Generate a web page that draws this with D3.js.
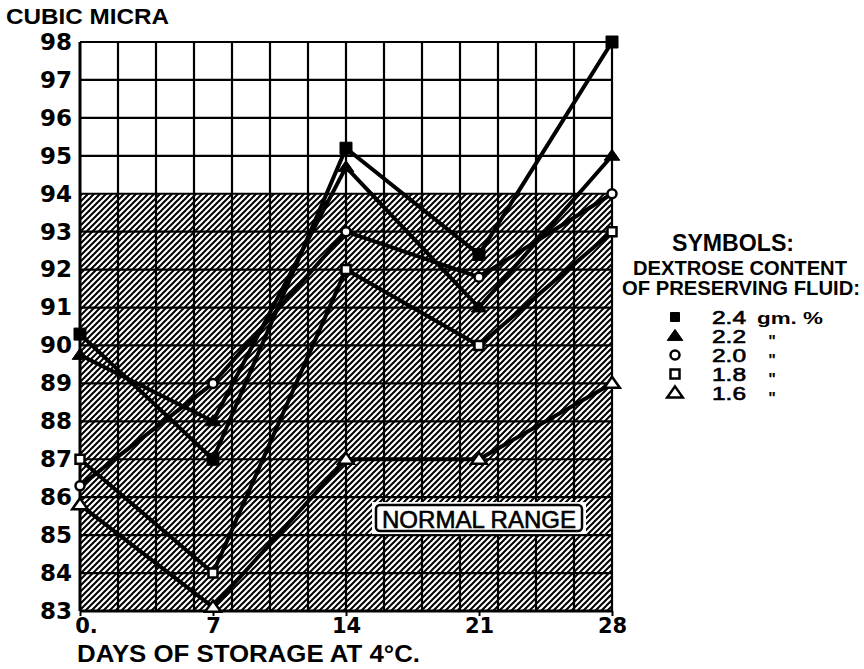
<!DOCTYPE html>
<html>
<head>
<meta charset="utf-8">
<script src="https://cdn.jsdelivr.net/npm/d3@7"></script>
<style>
  body { margin: 0; background: #fff; }
  svg { display: block; }
</style>
</head>
<body>
<div id="chart"></div>
<script>
// days of storage and mean corpuscular volume per dextrose level
const days = [0, 7, 14, 21, 28];
const dex24 = [90.3, 87, 95.2, 92.4, 98];
const dex22 = [89.75, 88, 94.7, 91, 95];
const dex20 = [86.3, 89, 93, 91.8, 94];
const dex18 = [87, 84, 92, 90, 93];
const dex16 = [85.8, 83.1, 87, 87, 89];

const seriesNames = ['2.4', '2.2', '2.0', '1.8', '1.6'];
const seriesUnits = ['gm. %', '"', '"', '"', '"'];
const seriesSymbols = ['fsquare', 'ftriangle', 'ocircle', 'osquare', 'otriangle'];
const seriesValues = [dex24, dex22, dex20, dex18, dex16];

const yTicks = d3.range(83, 99);
const xTicks = [0, 7, 14, 21, 28];
const xGrid = d3.range(0, 29, 2);
const normalRange = [83, 94];

const svgWidth = 864, svgHeight = 669;

const svg = d3.select('#chart').append('svg')
  .attr('width', svgWidth)
  .attr('height', svgHeight);

const x = d3.scaleLinear().domain([0, 28]).range([80, 612]);
const y = d3.scaleLinear().domain([83, 98]).range([611, 42]);

// hatch for the normal range
const defs = svg.append('defs');
defs.append('pattern')
  .attr('id', 'hatch')
  .attr('patternUnits', 'userSpaceOnUse')
  .attr('width', 6)
  .attr('height', 6)
  .append('path')
  .attr('d', 'M-1,1 l2,-2 M0,6 l6,-6 M5,7 l2,-2')
  .attr('stroke', '#000')
  .attr('stroke-width', 2);

svg.append('rect')
  .attr('x', x(0))
  .attr('y', y(normalRange[1]))
  .attr('width', x(28) - x(0))
  .attr('height', y(normalRange[0]) - y(normalRange[1]))
  .attr('fill', 'url(#hatch)');

// grid
svg.append('g')
  .selectAll('line')
  .data(yTicks)
  .join('line')
  .attr('x1', x(0)).attr('x2', x(28))
  .attr('y1', d => y(d)).attr('y2', d => y(d))
  .attr('stroke', '#000')
  .attr('stroke-width', d => d === 83 ? 3 : 2.2);

svg.append('g')
  .selectAll('line')
  .data(xGrid)
  .join('line')
  .attr('x1', d => x(d)).attr('x2', d => x(d))
  .attr('y1', y(98)).attr('y2', y(83))
  .attr('stroke', '#000')
  .attr('stroke-width', d => d === 0 ? 3 : 2.2);

// axes
const yAxis = svg.append('g')
  .attr('transform', `translate(${x(0)},0)`)
  .call(d3.axisLeft(y).tickValues(yTicks).tickSize(0).tickPadding(8).tickFormat(d3.format('d')));
yAxis.select('.domain').remove();
yAxis.selectAll('text')
  .attr('font-family', 'DejaVu Sans')
  .attr('font-weight', 'bold')
  .attr('font-size', 23)
  .attr('fill', '#000');

const xAxis = svg.append('g')
  .attr('transform', `translate(0,${y(83)})`)
  .call(d3.axisBottom(x).tickValues(xTicks).tickSize(5).tickPadding(2)
    .tickFormat(d => d === 0 ? '0.' : d));
xAxis.select('.domain').remove();
xAxis.selectAll('line').attr('stroke', '#000').attr('stroke-width', 2);
xAxis.selectAll('text')
  .attr('font-family', 'DejaVu Sans')
  .attr('font-weight', 'bold')
  .attr('font-size', 21)
  .attr('fill', '#000')
  .attr('dx', d => d === 0 ? 6 : 0);

svg.append('text')
  .attr('x', 6).attr('y', 24)
  .attr('font-family', 'Liberation Sans')
  .attr('font-weight', 'bold')
  .attr('font-size', 22)
  .attr('textLength', 163)
  .attr('lengthAdjust', 'spacingAndGlyphs')
  .text('CUBIC MICRA');

svg.append('text')
  .attr('x', 77).attr('y', 662)
  .attr('font-family', 'Liberation Sans')
  .attr('font-weight', 'bold')
  .attr('font-size', 24)
  .attr('textLength', 343)
  .attr('lengthAdjust', 'spacingAndGlyphs')
  .text('DAYS OF STORAGE AT 4°C.');

// symbol paths
const marker = (type, s) => {
  if (type.endsWith('square')) return `M${-s / 2},${-s / 2}h${s}v${s}h${-s}Z`;
  if (type.endsWith('circle')) return d3.arc()({ innerRadius: 0, outerRadius: s / 2, startAngle: 0, endAngle: 2 * Math.PI });
  const h = s * 0.85;
  return `M0,${-h * 0.6}L${s * 0.6},${h * 0.4}L${-s * 0.6},${h * 0.4}Z`;
};

// lines
const line = d3.line()
  .x((d, i) => x(days[i]))
  .y(d => y(d));

svg.append('g')
  .selectAll('path')
  .data(seriesValues)
  .join('path')
  .attr('d', line)
  .attr('fill', 'none')
  .attr('stroke', '#000')
  .attr('stroke-width', 4)
  .attr('stroke-linejoin', 'round');

// markers
seriesValues.forEach((vals, k) => {
  const type = seriesSymbols[k];
  const filled = type.startsWith('f');
  const size = type.endsWith('triangle') ? 13 : (filled ? 12 : 9);
  svg.append('g')
    .selectAll('path')
    .data(vals)
    .join('path')
    .attr('transform', (d, i) => `translate(${x(days[i])},${y(d)})`)
    .attr('d', marker(type, size))
    .attr('fill', filled ? '#000' : '#fff')
    .attr('stroke', '#000')
    .attr('stroke-width', filled ? 1 : 2.5);
});

// normal range label
const nr = svg.append('g').attr('transform', `translate(${x(21)},${y(85.45)})`);
nr.append('rect')
  .attr('x', -107).attr('y', -16).attr('width', 214).attr('height', 32)
  .attr('fill', '#fff');
nr.append('rect')
  .attr('x', -103).attr('y', -13).attr('width', 206).attr('height', 26)
  .attr('rx', 4)
  .attr('fill', '#fff')
  .attr('stroke', '#000')
  .attr('stroke-width', 2.5);
nr.append('text')
  .attr('x', 0).attr('y', 1)
  .attr('text-anchor', 'middle')
  .attr('dominant-baseline', 'central')
  .attr('font-family', 'Liberation Sans')
  .attr('font-size', 24)
  .attr('stroke', '#000')
  .attr('stroke-width', 0.6)
  .attr('textLength', 194)
  .attr('lengthAdjust', 'spacingAndGlyphs')
  .text('NORMAL RANGE');

// legend
const legend = svg.append('g');
const heads = [
  { t: 'SYMBOLS:', x: 672, y: 251, w: 122, fs: 24 },
  { t: 'DEXTROSE CONTENT', x: 633, y: 275, w: 214, fs: 20 },
  { t: 'OF PRESERVING FLUID:', x: 622, y: 295, w: 238, fs: 20 }
];
legend.selectAll('text.head')
  .data(heads)
  .join('text')
  .attr('class', 'head')
  .attr('x', d => d.x).attr('y', d => d.y)
  .attr('font-family', 'Liberation Sans')
  .attr('font-weight', 'bold')
  .attr('font-size', d => d.fs)
  .attr('textLength', d => d.w)
  .attr('lengthAdjust', 'spacingAndGlyphs')
  .text(d => d.t);

const rowY = i => 317 + i * 19;
seriesNames.forEach((name, i) => {
  const type = seriesSymbols[i];
  const filled = type.startsWith('f');
  legend.append('path')
    .attr('transform', `translate(675,${rowY(i)})`)
    .attr('d', marker(type, type.endsWith('triangle') ? 13 : 9))
    .attr('fill', filled ? '#000' : '#fff')
    .attr('stroke', '#000')
    .attr('stroke-width', filled ? 1 : 2.5);
  legend.append('text')
    .attr('x', 712).attr('y', rowY(i) + 1)
    .attr('dominant-baseline', 'central')
    .attr('font-family', 'Liberation Sans')
    .attr('font-size', 17)
    .attr('stroke', '#000')
    .attr('stroke-width', 0.6)
    .attr('textLength', 34)
    .attr('lengthAdjust', 'spacingAndGlyphs')
    .attr('transform', `translate(0,${rowY(i) + 1}) scale(1,1.1) translate(0,${-(rowY(i) + 1)})`)
    .text(name);
  legend.append('text')
    .attr('x', i === 0 ? 757 : 772).attr('y', rowY(i) + (i === 0 ? 1 : 5))
    .attr('text-anchor', i === 0 ? 'start' : 'middle')
    .attr('dominant-baseline', 'central')
    .attr('font-family', 'Liberation Sans')
    .attr('font-weight', 'bold')
    .attr('font-size', i === 0 ? 17 : 16)
    .attr('textLength', i === 0 ? 66 : null)
    .attr('lengthAdjust', 'spacingAndGlyphs')
    .text(seriesUnits[i]);
});
</script>
</body>
</html>
